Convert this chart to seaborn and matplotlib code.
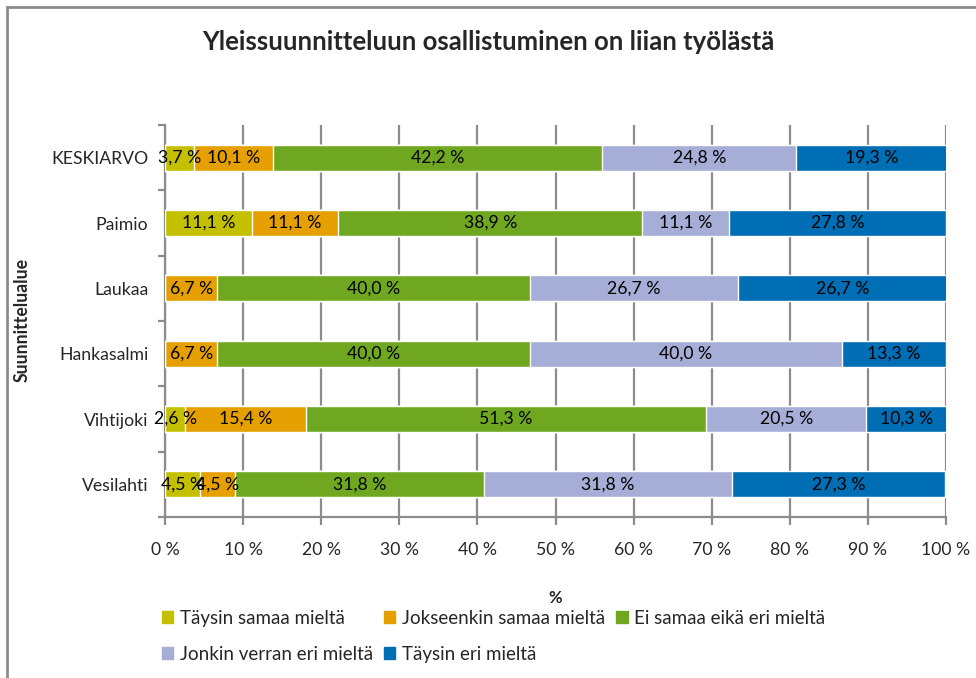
"""Stacked horizontal bar chart: Yleissuunnitteluun osallistuminen."""

import matplotlib

matplotlib.use("Agg")
import matplotlib.pyplot as plt
import numpy as np
import pandas as pd
import seaborn as sns
from matplotlib.patches import Rectangle
from matplotlib.ticker import FixedLocator

categories = ["KESKIARVO", "Paimio", "Laukaa", "Hankasalmi", "Vihtijoki", "Vesilahti"]
series = [
    "Täysin samaa mieltä",
    "Jokseenkin samaa mieltä",
    "Ei samaa eikä eri mieltä",
    "Jonkin verran eri mieltä",
    "Täysin eri mieltä",
]
taysin_samaa = [3.7, 11.1, 0.0, 0.0, 2.6, 4.5]
jokseenkin_samaa = [10.1, 11.1, 6.7, 6.7, 15.4, 4.5]
ei_samaa_eika_eri = [42.2, 38.9, 40.0, 40.0, 51.3, 31.8]
jonkin_verran_eri = [24.8, 11.1, 26.7, 40.0, 20.5, 31.8]
taysin_eri = [19.3, 27.8, 26.7, 13.3, 10.3, 27.3]
colors = ["#c4c000", "#e5a000", "#6fa820", "#a6add6", "#006eb4"]

values = [taysin_samaa, jokseenkin_samaa, ei_samaa_eika_eri, jonkin_verran_eri, taysin_eri]
df = pd.DataFrame({"category": categories})
for name, vals in zip(series, values):
    df[name] = vals
cum = df[series].cumsum(axis=1)

sns.set_theme(style="white")
plt.rcParams["font.family"] = ["Lato", "DejaVu Sans"]

fig = plt.figure(figsize=(9.76, 6.78), dpi=100)
ax = fig.add_axes([165 / 976, 1 - 517 / 678, 781 / 976, 392 / 678])

grid_col = "#8c8c8c"
fs = 12.7
# draw cumulative totals from the last series back so each segment shows
for name, col in reversed(list(zip(series, colors))):
    sns.barplot(
        x=cum[name].values,
        y=df["category"],
        orient="h",
        color=col,
        width=0.4,
        saturation=1,
        ax=ax,
        zorder=3,
    )

for i, cat in enumerate(categories):
    for name in series:
        v = df.loc[i, name]
        if v <= 0:
            continue
        centre = cum.loc[i, name] - v / 2
        ax.text(
            centre, i, f"{v:.1f} %".replace(".", ","),
            ha="center", va="center", fontsize=fs, color="black", zorder=5,
        )

ax.set_xlim(0, 100)
ax.set_ylim(len(categories) - 0.5, -0.5)
ticks = np.arange(0, 101, 10)
ax.set_xticks(ticks)
ax.set_xticklabels([f"{t} %" for t in ticks], fontsize=fs)
ax.xaxis.grid(True, color=grid_col, linewidth=1.6, zorder=0)
ax.set_axisbelow(True)
ax.tick_params(axis="x", length=6, width=1.6, color=grid_col, pad=12, bottom=True)
ax.tick_params(axis="y", which="major", length=0, pad=12, labelsize=fs)
ax.yaxis.set_minor_locator(FixedLocator(np.arange(-0.5, len(categories), 1)))
ax.tick_params(axis="y", which="minor", length=5, width=1.6, color=grid_col, left=True)

for side in ["top", "right"]:
    ax.spines[side].set_visible(False)
for side in ["left", "bottom"]:
    ax.spines[side].set_color(grid_col)
    ax.spines[side].set_linewidth(1.6)

ax.set_xlabel("%", fontsize=12, fontweight="bold")
ax.xaxis.set_label_coords(0.5, -(590 - 517) / 392)
ax.set_ylabel("")
fig.text(22 / 976, 1 - 320 / 678, "Suunnittelualue", rotation=90, ha="center",
         va="center", fontsize=fs, fontweight="bold")

fig.text(0.5, 1 - 42 / 678, "Yleissuunnitteluun osallistuminen on liian työlästä",
         ha="center", va="center", fontsize=18.5, fontweight="bold")

# legend filled column-wise, so reorder to read row by row
order = [0, 3, 1, 4, 2]
handles = [Rectangle((0, 0), 1, 1, color=colors[k]) for k in order]
fig.legend(
    handles, [series[k] for k in order], loc="upper left",
    bbox_to_anchor=(145 / 976, 1 - 593 / 678),
    ncol=3, frameon=False, fontsize=13.5, handlelength=0.6, handleheight=0.6,
    handletextpad=0.35, columnspacing=0.6, labelspacing=1.0,
)

fig.add_artist(Rectangle((7 / 976, -0.1), 1.2, 1.1 - 7 / 678, transform=fig.transFigure,
                         fill=False, edgecolor=grid_col, linewidth=2))

fig.savefig("out.png", dpi=100)
